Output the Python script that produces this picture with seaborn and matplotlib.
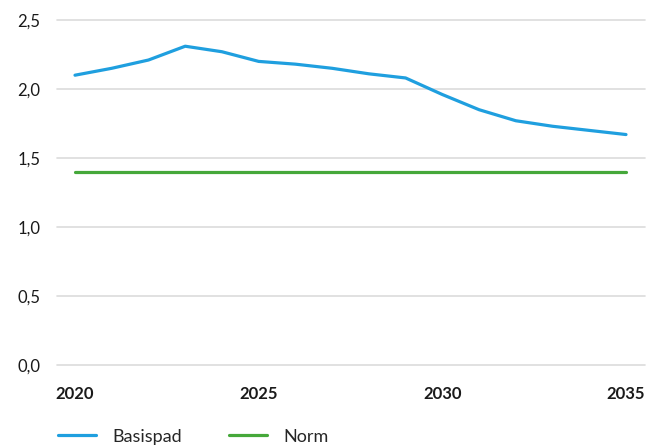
import matplotlib
matplotlib.use("Agg")
import matplotlib.pyplot as plt
import seaborn as sns
import pandas as pd

years = list(range(2020, 2036))
basispad = [2.10, 2.15, 2.21, 2.31, 2.27, 2.20, 2.18, 2.15, 2.11, 2.08,
            1.96, 1.85, 1.77, 1.73, 1.70, 1.67]
norm = [1.40] * len(years)
series_names = ["Basispad", "Norm"]
colors = ["#1f9fdf", "#45a83a"]
x_ticks = [2020, 2025, 2030, 2035]
y_ticks = [0.0, 0.5, 1.0, 1.5, 2.0, 2.5]

df = pd.DataFrame({
    "jaar": years * 2,
    "waarde": basispad + norm,
    "reeks": [series_names[0]] * len(years) + [series_names[1]] * len(years),
})

sns.set_theme(style="white")
plt.rcParams["font.family"] = ["Lato", "DejaVu Sans"]

fig = plt.figure(figsize=(6.59, 4.45), dpi=100)
ax = fig.add_axes([57 / 659, 1 - 365 / 445, (645 - 57) / 659, (365 - 20) / 445])

sns.lineplot(data=df, x="jaar", y="waarde", hue="reeks", palette=colors,
             linewidth=2.3, ax=ax, legend=False)

ax.set_xlim(2020 - 18 / 36.73, 2035 + 19 / 36.73)
ax.set_ylim(0, 2.5)
ax.set_xticks(x_ticks)
ax.set_xticklabels([str(t) for t in x_ticks], fontweight="bold", fontsize=12)
ax.set_yticks(y_ticks)
ax.set_yticklabels([f"{t:.1f}".replace(".", ",") for t in y_ticks], fontsize=12)
ax.yaxis.grid(True, color="#dcdcdc", linewidth=1.2)
for gl in ax.get_ygridlines():
    gl.set_clip_on(False)
ax.xaxis.grid(False)
for s in ax.spines.values():
    s.set_visible(False)
ax.tick_params(axis="y", length=0, pad=12, colors="#1a1a1a")
ax.tick_params(axis="x", length=0, pad=15, colors="#1a1a1a")
ax.set_xlabel("")
ax.set_ylabel("")

from matplotlib.lines import Line2D
handles = [Line2D([], [], color=c, linewidth=2.3) for c in colors]
fig.legend(handles, series_names, loc="lower left", bbox_to_anchor=(42 / 659, -0.036),
           ncol=2, frameon=False, fontsize=13, handlelength=2.1, handletextpad=0.9,
           columnspacing=2.6)

fig.savefig("out.png", dpi=100)
